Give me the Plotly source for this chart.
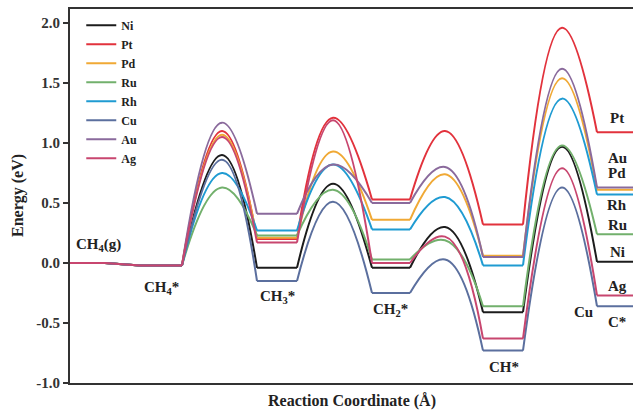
import plotly.graph_objects as go

# ---------------- data ----------------
metals = ["Ni", "Pt", "Pd", "Ru", "Rh", "Cu", "Au", "Ag"]
states = ["CH4(g)", "CH4*", "TS1", "CH3*", "TS2", "CH2*", "TS3", "CH*", "TS4", "C*"]

E_Ni = [0.0, -0.02, 0.90, -0.04, 0.66, -0.04, 0.30, -0.41, 0.97, 0.01]
E_Pt = [0.0, -0.02, 1.10, 0.20, 1.21, 0.53, 1.10, 0.32, 1.96, 1.09]
E_Pd = [0.0, -0.02, 1.07, 0.21, 0.93, 0.36, 0.74, 0.06, 1.54, 0.61]
E_Ru = [0.0, -0.02, 0.63, 0.23, 0.61, 0.03, 0.19, -0.36, 0.98, 0.24]
E_Rh = [0.0, -0.02, 0.75, 0.27, 0.82, 0.28, 0.55, -0.02, 1.37, 0.57]
E_Cu = [0.0, -0.02, 0.86, -0.15, 0.51, -0.25, 0.03, -0.73, 0.63, -0.36]
E_Au = [0.0, -0.02, 1.17, 0.41, 0.82, 0.50, 0.80, 0.05, 1.62, 0.63]
E_Ag = [0.0, -0.02, 1.05, 0.17, 1.19, 0.00, 0.22, -0.63, 0.79, -0.27]

energies = {"Ni": E_Ni, "Pt": E_Pt, "Pd": E_Pd, "Ru": E_Ru,
            "Rh": E_Rh, "Cu": E_Cu, "Au": E_Au, "Ag": E_Ag}

y_tickvals = [-1.0, -0.5, 0.0, 0.5, 1.0, 1.5, 2.0]
y_ticktext = ["-1.0", "-0.5", "0.0", "0.5", "1.0", "1.5", "2.0"]

# ---------------- layout geometry (reaction coordinate) ----------------
flat_spans = {0: (0, 35), 1: (70, 112), 3: (187, 227), 5: (302, 340), 7: (413, 453), 9: (527, 575)}
ts_pos = {2: 152, 4: 263, 6: 375, 8: 492}

colors = {"Ni": "#1c1c1c", "Pt": "#e2323c", "Pd": "#f0a935", "Ru": "#72b06c",
          "Rh": "#1f9bd2", "Cu": "#5b6f9e", "Au": "#8a6a9c", "Ag": "#c8466f"}

FONT = "Liberation Serif"
TXT = "#222"

fig = go.Figure()

for m in metals:
    E = energies[m]
    fx, fy = [], []
    fx += [flat_spans[0][0], flat_spans[0][1], flat_spans[1][0], flat_spans[1][1], None]
    fy += [E[0], E[0], E[1], E[1], None]
    for i in (3, 5, 7, 9):
        a, b = flat_spans[i]
        fx += [a, b, None]
        fy += [E[i], E[i], None]
    fig.add_trace(go.Scatter(x=fx, y=fy, mode="lines", name=m, legendgroup=m,
                             line=dict(color=colors[m], width=2), showlegend=True,
                             hoverinfo="skip"))
    hx, hy = [], []
    for t in (2, 4, 6, 8):
        hx += [flat_spans[t - 1][1], ts_pos[t], flat_spans[t + 1][0], None]
        hy += [E[t - 1], E[t], E[t + 1], None]
    fig.add_trace(go.Scatter(x=hx, y=hy, mode="lines", legendgroup=m, showlegend=False,
                             line=dict(color=colors[m], width=2, shape="spline", smoothing=1.3),
                             hoverinfo="skip"))

# ---------------- labels ----------------
state_labels = [
    ("CH<sub>4</sub>(g)", 28, 0.15),
    ("CH<sub>4</sub>*", 91, -0.21),
    ("CH<sub>3</sub>*", 207, -0.28),
    ("CH<sub>2</sub>*", 320, -0.39),
    ("CH*", 434, -0.87),
    ("C*", 547, -0.49),
    ("Cu", 513, -0.41),
]
end_labels = [("Pt", 1.21), ("Au", 0.875), ("Pd", 0.75), ("Rh", 0.48),
              ("Ru", 0.32), ("Ni", 0.09), ("Ag", -0.19)]

annotations = []
for txt, x, y in state_labels:
    annotations.append(dict(x=x, y=y, xref="x", yref="y", text=txt, showarrow=False,
                            font=dict(family=FONT, size=15, color=TXT, weight="bold")))
for txt, y in end_labels:
    annotations.append(dict(x=547, y=y, xref="x", yref="y", text=txt, showarrow=False,
                            font=dict(family=FONT, size=15, color=TXT, weight="bold")))

annotations.append(dict(x=-52 / 563, y=0.5, xref="paper", yref="paper",
                        xanchor="center", yanchor="middle",
                        text="Energy (eV)", textangle=-90, showarrow=False,
                        font=dict(family=FONT, size=16, color=TXT, weight="bold")))
annotations.append(dict(x=0.5, y=-18 / 374, xref="paper", yref="paper",
                        xanchor="center", yanchor="middle",
                        text="Reaction Coordinate (Å)", showarrow=False,
                        font=dict(family=FONT, size=16, color=TXT, weight="bold")))

fig.update_layout(
    width=633, height=410,
    margin=dict(l=70, r=0, t=9, b=27),
    paper_bgcolor="white", plot_bgcolor="white",
    annotations=annotations,
    legend=dict(x=0.02, y=0.995, xanchor="left", yanchor="top",
                bgcolor="rgba(0,0,0,0)", borderwidth=0, tracegroupgap=0,
                font=dict(family=FONT, size=12, color=TXT, weight="bold")),
    xaxis=dict(range=[0, 563], showticklabels=False, ticks="", showgrid=False,
               zeroline=False, showline=True, linecolor="#333", linewidth=2, mirror=True),
    yaxis=dict(range=[-1.0, 2.117], tickvals=y_tickvals, ticktext=y_ticktext,
               ticks="outside", ticklen=5, tickwidth=1.5, tickcolor="#333",
               showgrid=False, zeroline=False, showline=True, linecolor="#333", linewidth=2,
               tickfont=dict(family=FONT, size=15, color="#333", weight="bold")),
    showlegend=True,
)

fig.write_html("out.html", config={"displayModeBar": False},
               post_script="document.body.style.margin='0';document.body.style.overflow='hidden';")
